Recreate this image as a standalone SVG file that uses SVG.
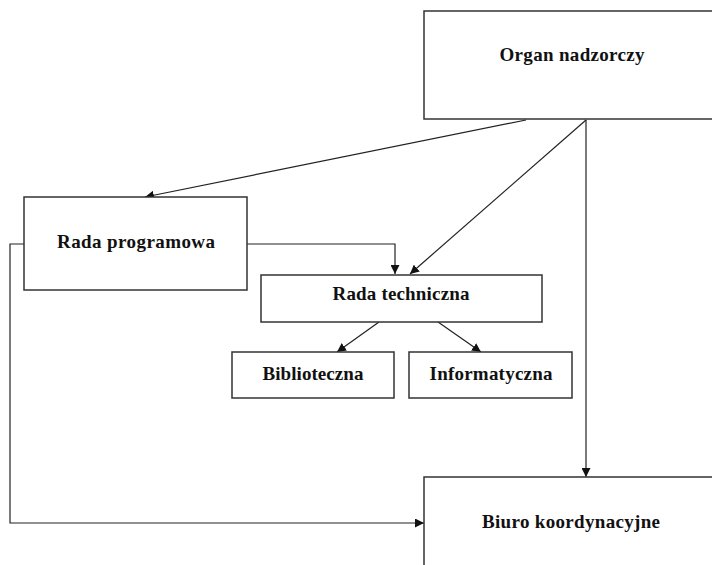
<svg xmlns="http://www.w3.org/2000/svg" width="712" height="565" viewBox="0 0 712 565">
<defs>
<style>
.box{fill:#fff;stroke:#333;stroke-width:1.5}
.lbl{font-family:"Liberation Serif","Times New Roman",serif;font-size:19px;font-weight:bold;fill:#111;text-anchor:middle}
.con{fill:none;stroke:#222;stroke-width:1.2}
</style>
<marker id="ah" viewBox="0 0 10 10" refX="10" refY="5" markerWidth="9" markerHeight="9" markerUnits="userSpaceOnUse" orient="auto">
<path d="M0,0 L10,5 L0,10 z" fill="#111"/>
</marker>
</defs>
<rect width="712" height="565" fill="#fff"/>
<g id="connectors">
<path class="con" d="M526,120 L145,197" marker-end="url(#ah)"/>
<path class="con" d="M586,120 L410,274" marker-end="url(#ah)"/>
<path class="con" d="M586,120 L586,477" marker-end="url(#ah)"/>
<path class="con" d="M247,244 L395,244 L395,274" marker-end="url(#ah)"/>
<path class="con" d="M24,244 L10,244 L10,523 L424,523" marker-end="url(#ah)"/>
<path class="con" d="M379,322 L337,352" marker-end="url(#ah)"/>
<path class="con" d="M438,322 L481,352" marker-end="url(#ah)"/>
</g>
<g id="organ">
<rect class="box" x="424" y="11" width="300" height="108"/>
<text class="lbl" x="572" y="61" textLength="145">Organ nadzorczy</text>
</g>
<g id="rada-programowa">
<rect class="box" x="24" y="197" width="223" height="93"/>
<text class="lbl" x="136" y="248" textLength="158">Rada programowa</text>
</g>
<g id="rada-techniczna">
<rect class="box" x="261" y="275" width="281" height="47"/>
<text class="lbl" x="401" y="300" textLength="137">Rada techniczna</text>
</g>
<g id="biblioteczna">
<rect class="box" x="232" y="352" width="162" height="46"/>
<text class="lbl" x="313" y="380" textLength="101">Biblioteczna</text>
</g>
<g id="informatyczna">
<rect class="box" x="409" y="352" width="163" height="46"/>
<text class="lbl" x="491" y="380" textLength="123">Informatyczna</text>
</g>
<g id="biuro">
<rect class="box" x="424" y="477" width="300" height="100"/>
<text class="lbl" x="571" y="528" textLength="178">Biuro koordynacyjne</text>
</g>
</svg>
